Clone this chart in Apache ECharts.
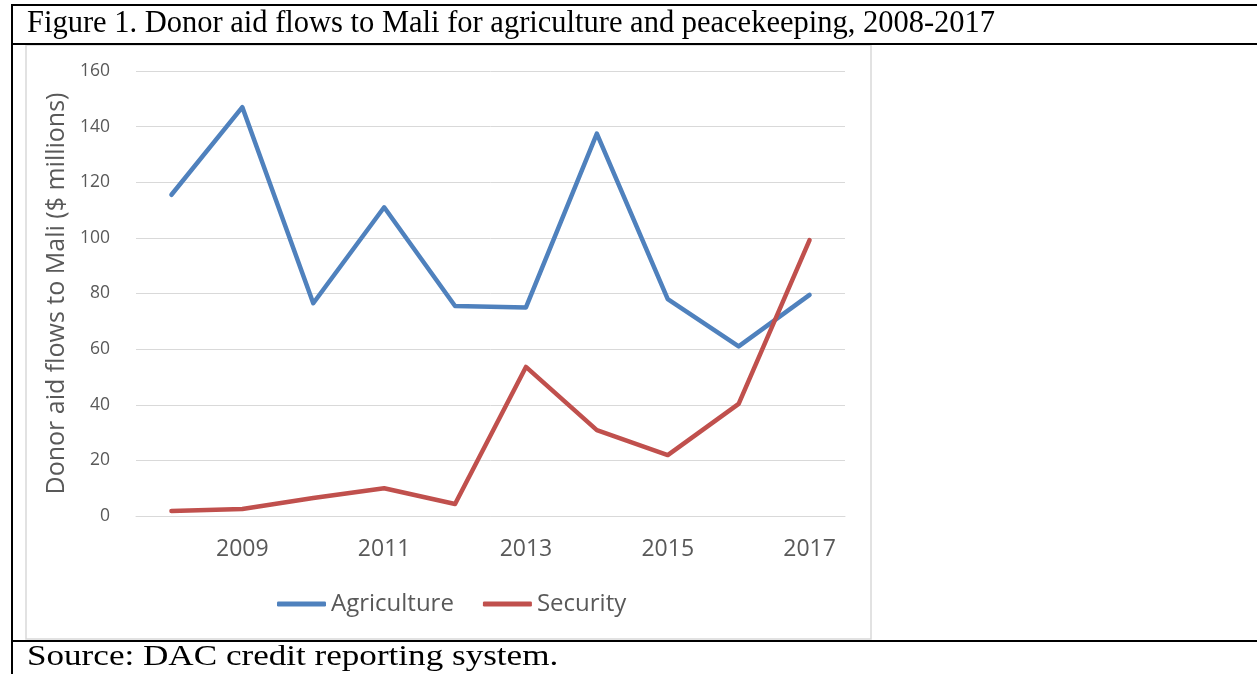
<!DOCTYPE html>
<html>
<head>
<meta charset="utf-8">
<script src="https://cdn.jsdelivr.net/npm/echarts@6/dist/echarts.min.js"></script>
<style>
html,body{margin:0;padding:0;background:#fff;}
#c{width:1257px;height:674px;}
</style>
</head>
<body>
<div id="c"></div>
<script>
const titleText = 'Figure 1. Donor aid flows to Mali for agriculture and peacekeeping, 2008-2017';
const sourceText = 'Source: DAC credit reporting system.';
const yAxisName = 'Donor aid flows to Mali ($ millions)';
const years = ['2008','2009','2010','2011','2012','2013','2014','2015','2016','2017'];
const agriculture = [115.5, 147, 76.5, 111, 75.5, 75, 137.5, 78, 61, 79.5];
const security = [1.8, 2.5, 6.5, 10, 4.3, 53.6, 30.9, 21.9, 40.3, 99.2];
const yTicks = [0, 20, 40, 60, 80, 100, 120, 140, 160];

const chart = echarts.init(document.getElementById('c'));
const txt = '#595959';
const font = 'Open Sans';
chart.setOption({
  animation: false,
  backgroundColor: '#fff',
  graphic: [
    {type:'rect', shape:{x:26,y:45,width:845,height:594}, style:{fill:'none', stroke:'#d9d9d9', lineWidth:1.5}, z:-1},
    {type:'line', shape:{x1:12,y1:5,x2:1257,y2:5}, style:{stroke:'#000', lineWidth:2}},
    {type:'line', shape:{x1:12,y1:44,x2:1257,y2:44}, style:{stroke:'#000', lineWidth:2}},
    {type:'line', shape:{x1:12,y1:641,x2:1257,y2:641}, style:{stroke:'#000', lineWidth:2}},
    {type:'line', shape:{x1:12,y1:4,x2:12,y2:674}, style:{stroke:'#000', lineWidth:2}},
    {type:'text', x:27, y:8, style:{text:titleText, fill:'#000', font:'30.5px "Liberation Serif"'}},
    {type:'text', x:27, y:642, scaleX:1.17, style:{text:sourceText, fill:'#000', font:'30px "Liberation Serif"'}}
  ],
  grid: {left:136, right:412, top:71, bottom:158, containLabel:false},
  legend: {
    left: 272, top: 587,
    icon: 'roundRect',
    itemWidth: 49, itemHeight: 5, itemGap: 29,
    textStyle: {color: txt, fontFamily: font, fontSize: 24},
    data: ['Agriculture','Security']
  },
  xAxis: {
    type: 'category',
    data: years,
    boundaryGap: true,
    axisLine: {show:true, lineStyle:{color:'#d9d9d9', width:1}},
    axisTick: {show:false},
    axisLabel: {
      interval: function(i){ return i % 2 === 1; },
      color: txt, fontFamily: font, fontSize: 23, margin: 22
    }
  },
  yAxis: {
    type: 'value',
    min: 0, max: 160, interval: 20,
    name: yAxisName,
    nameLocation: 'middle',
    nameRotate: 90,
    nameGap: 64,
    nameTextStyle: {color: txt, fontFamily: font, fontSize: 25},
    axisLine: {show:false},
    axisTick: {show:false},
    splitLine: {lineStyle:{color:'#d9d9d9', width:1}},
    axisLabel: {color: txt, fontFamily: font, fontSize: 17.5, margin: 26,
      formatter: function(v){ return yTicks.indexOf(v) >= 0 ? String(v) : ''; }}
  },
  series: [
    {name:'Agriculture', type:'line', data: agriculture, symbol:'none', color:'#4F81BD',
     lineStyle:{width:4.5, color:'#4F81BD', cap:'round', join:'round'}},
    {name:'Security', type:'line', data: security, symbol:'none', color:'#C0504D',
     lineStyle:{width:4.5, color:'#C0504D', cap:'round', join:'round'}}
  ]
});
</script>
</body>
</html>
